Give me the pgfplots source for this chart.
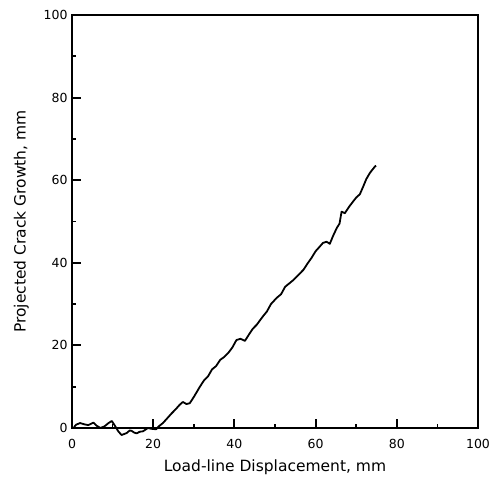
\documentclass[border=0pt]{standalone}
\usepackage{pgfplots}
\pgfplotsset{compat=1.18}
\usepackage{fontspec}
\setmainfont{DejaVu Sans}
\usetikzlibrary{calc}
\begin{document}
\begin{tikzpicture}
\begin{axis}[
  scale only axis,
  width=406pt, height=413pt,
  xmin=0, xmax=100, ymin=0, ymax=100,
  clip=false,
  xtick={0,20,...,100}, ytick={0,20,...,100},
  minor x tick num=1, minor y tick num=1,
  xtick pos=left, ytick pos=left,
  tick align=inside,
  major tick length=8pt, minor tick length=4pt,
  major tick style={black, line width=2pt, line cap=rect},
  minor tick style={black, line width=1.6pt},
  axis line style={line width=1.4pt},
  /pgf/number format/assume math mode=true,
  tick label style={font=\fontsize{12.5}{14}\selectfont},
  xticklabel shift=8pt,
  yticklabel shift=1pt,
  label style={font=\fontsize{15.5}{18}\selectfont},
  xlabel={Load-line Displacement, mm},
  ylabel={Projected Crack Growth, mm},
  xlabel style={yshift=-4pt},
  ylabel style={yshift=8pt},
]
\addplot[black, line width=1.8pt, line join=round] coordinates {
(0.5,0.2) (1,0.8) (2,1.2) (3,0.9) (4,0.7) (5.3,1.3) (6,0.6) (7,0) (8,0.4) (9,1.2) (9.8,1.7) (10.6,0.5) (11.4,-0.8) (12.2,-1.7) (13,-1.4) (13.5,-1.2) (14.2,-0.6) (14.7,-0.7) (15.3,-1.1) (15.9,-1.3) (16.7,-0.9) (17.5,-0.8) (18.7,0) (19.6,-0.2) (20.7,-0.3) (21.5,0.5) (22.4,1.2) (23.5,2.4) (24.5,3.5) (25.5,4.5) (26.5,5.6) (27.3,6.3) (28.2,5.8) (29,6) (30,7.5) (31.5,10) (32.5,11.5) (33.5,12.5) (34.5,14.2) (35.5,15) (36.5,16.5) (37.5,17.2) (38.5,18.2) (39.5,19.5) (40.5,21.3) (41.5,21.6) (42.6,21.1) (43.5,22.5) (44.5,24) (45.5,25) (47,27) (48,28.2) (49,30) (50.4,31.5) (51.5,32.4) (52.5,34.2) (53.5,35) (54.5,35.8) (55.5,36.8) (57,38.3) (58,39.8) (59,41.2) (60,42.8) (61,43.9) (61.8,44.8) (62.7,45.1) (63.5,44.6) (64.3,46.5) (65.2,48.4) (65.9,49.5) (66.4,52.4) (67.2,52.0) (68.2,53.5) (69.2,54.8) (70,55.8) (70.9,56.6) (71.7,58.4) (72.5,60.3) (73.4,61.8) (74.6,63.3) (74.9,63.5)
};
\end{axis}
\path ($(current axis.south west)+(-72pt,-57pt)$) rectangle ($(current axis.north east)+(18pt,15pt)$);
\end{tikzpicture}
\end{document}
